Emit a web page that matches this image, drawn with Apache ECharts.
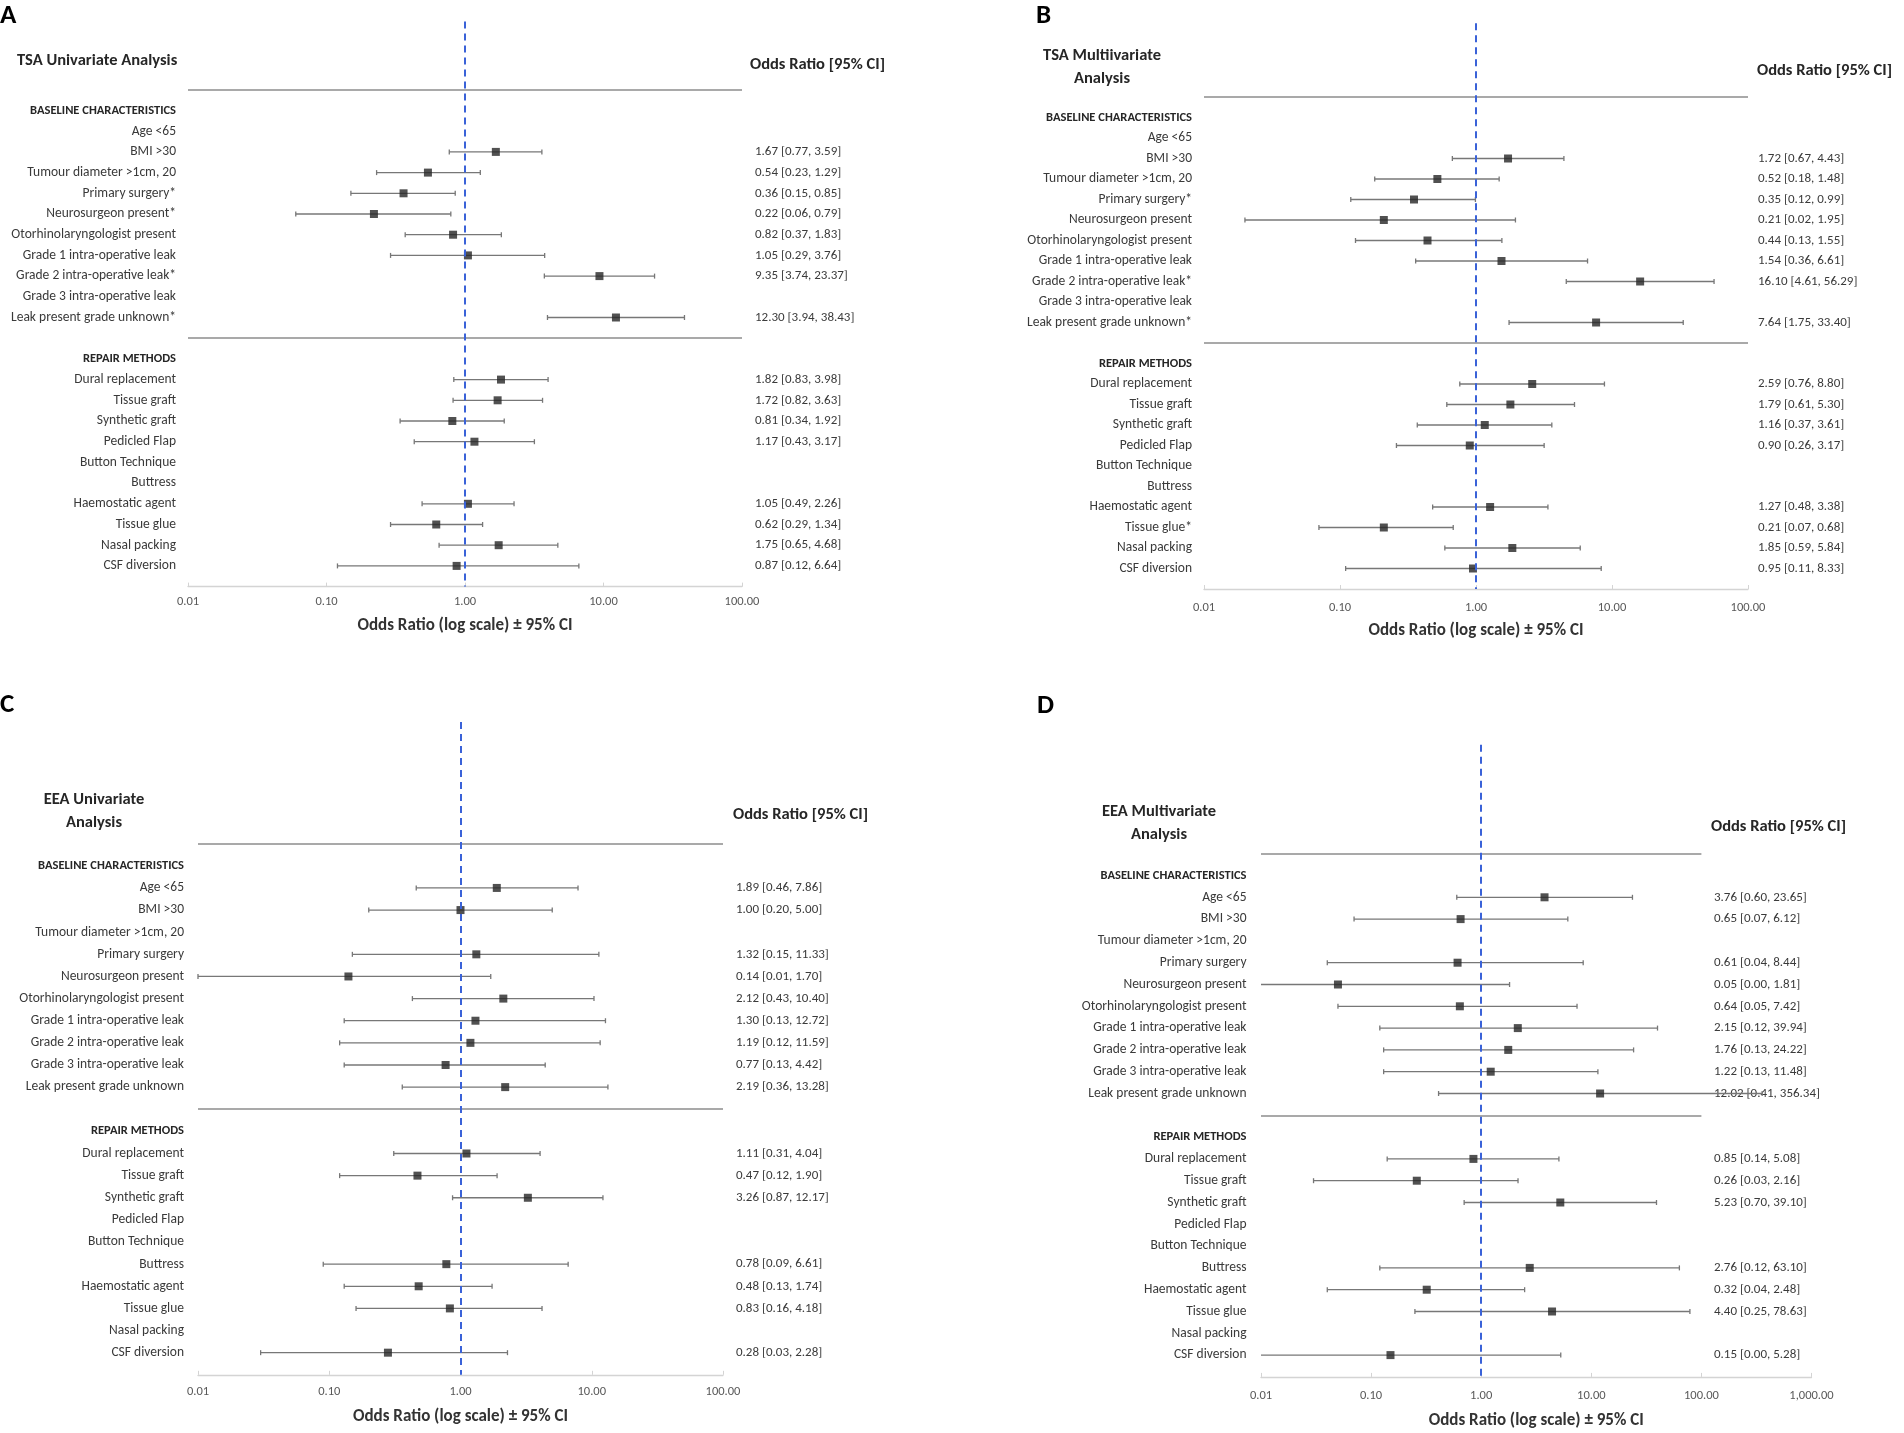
<!DOCTYPE html>
<html>
<head>
<meta charset="utf-8">
<script src="https://cdn.jsdelivr.net/npm/echarts@6/dist/echarts.min.js"></script>
<style>
html,body{margin:0;padding:0;background:#fff}
#main{width:1904px;height:1433px}
</style>
</head>
<body>
<div id="main"></div>
<script>
// row names, same in every panel
var baseRows = ['Age <65','BMI >30','Tumour diameter >1cm, 20','Primary surgery','Neurosurgeon present',
	'Otorhinolaryngologist present','Grade 1 intra-operative leak','Grade 2 intra-operative leak',
	'Grade 3 intra-operative leak','Leak present grade unknown'];
var repairRows = ['Dural replacement','Tissue graft','Synthetic graft','Pedicled Flap','Button Technique',
	'Buttress','Haemostatic agent','Tissue glue','Nasal packing','CSF diversion'];

// rows marked with * (significant)
var starA = ['Primary surgery','Neurosurgeon present','Grade 2 intra-operative leak','Leak present grade unknown'];
var starB = ['Primary surgery','Grade 2 intra-operative leak','Leak present grade unknown','Tissue glue'];
var starC = [];
var starD = [];

// A - TSA univariate
var orA = [null,1.67,0.54,0.36,0.22,0.82,1.05,9.35,null,12.30, 1.82,1.72,0.81,1.17,null,null,1.05,0.62,1.75,0.87];
var loA = [null,0.77,0.23,0.15,0.06,0.37,0.29,3.74,null,3.94, 0.83,0.82,0.34,0.43,null,null,0.49,0.29,0.65,0.12];
var hiA = [null,3.59,1.29,0.85,0.79,1.83,3.76,23.37,null,38.43, 3.98,3.63,1.92,3.17,null,null,2.26,1.34,4.68,6.64];

// B - TSA multivariate
var orB = [null,1.72,0.52,0.35,0.21,0.44,1.54,16.10,null,7.64, 2.59,1.79,1.16,0.90,null,null,1.27,0.21,1.85,0.95];
var loB = [null,0.67,0.18,0.12,0.02,0.13,0.36,4.61,null,1.75, 0.76,0.61,0.37,0.26,null,null,0.48,0.07,0.59,0.11];
var hiB = [null,4.43,1.48,0.99,1.95,1.55,6.61,56.29,null,33.40, 8.80,5.30,3.61,3.17,null,null,3.38,0.68,5.84,8.33];

// C - EEA univariate
var orC = [1.89,1.00,null,1.32,0.14,2.12,1.30,1.19,0.77,2.19, 1.11,0.47,3.26,null,null,0.78,0.48,0.83,null,0.28];
var loC = [0.46,0.20,null,0.15,0.01,0.43,0.13,0.12,0.13,0.36, 0.31,0.12,0.87,null,null,0.09,0.13,0.16,null,0.03];
var hiC = [7.86,5.00,null,11.33,1.70,10.40,12.72,11.59,4.42,13.28, 4.04,1.90,12.17,null,null,6.61,1.74,4.18,null,2.28];

// D - EEA multivariate
var orD = [3.76,0.65,null,0.61,0.05,0.64,2.15,1.76,1.22,12.02, 0.85,0.26,5.23,null,null,2.76,0.32,4.40,null,0.15];
var loD = [0.60,0.07,null,0.04,0.00,0.05,0.12,0.13,0.13,0.41, 0.14,0.03,0.70,null,null,0.12,0.04,0.25,null,0.00];
var hiD = [23.65,6.12,null,8.44,1.81,7.42,39.94,24.22,11.48,356.34, 5.08,2.16,39.10,null,null,63.10,2.48,78.63,null,5.28];

// x axis range (log scale)
var xMin = 0.01;
var xMaxABC = 100;
var xMaxD = 1000;

var FONT = 'Carlito, Lato, "Noto Sans", sans-serif';
var TXT = '#3a3a3a';

var panels = [
	{letter:'A', title:'TSA Univariate Analysis', or:orA, lo:loA, hi:hiA, star:starA, xMax:xMaxABC,
	 grid:{left:188, top:7, width:554, height:579.6}, yMin:-5, dashTop:-4.3,
	 labelMargin:12, valueOffset:13, nameGap:31, tickMargin:9,
	 letterPos:[0,16], titlePos:[17,61,'left'], headerPos:[750,65]},
	{letter:'B', title:'TSA Multiivariate\nAnalysis', or:orB, lo:loB, hi:hiB, star:starB, xMax:xMaxABC,
	 grid:{left:1204, top:15, width:544, height:574}, yMin:-5, dashTop:-4.6,
	 labelMargin:12, valueOffset:10, nameGap:33, tickMargin:12,
	 letterPos:[1036,16], titlePos:[1102,67,'center'], headerPos:[1757,71]},
	{letter:'C', title:'EEA Univariate\nAnalysis', or:orC, lo:loC, hi:hiC, star:starC, xMax:xMaxABC,
	 grid:{left:198, top:710.9, width:525, height:663.9}, yMin:-7, dashTop:-6.5,
	 labelMargin:14, valueOffset:13, nameGap:33, tickMargin:11,
	 letterPos:[0,705], titlePos:[94,811.5,'center'], headerPos:[733,815]},
	{letter:'D', title:'EEA Multivariate\nAnalysis', or:orD, lo:loD, hi:hiD, star:starD, xMax:xMaxD,
	 grid:{left:1261, top:744.7, width:550.5, height:632.2}, yMin:-6, dashTop:-6,
	 labelMargin:14.5, valueOffset:-97.5, nameGap:35, tickMargin:12,
	 letterPos:[1037,706], titlePos:[1159,823,'center'], headerPos:[1711,827]}
];

// data index (0..19) -> row on the y axis (0 = BASELINE header, 11 = separator, 12 = REPAIR header)
function rowOf(i){ return i < 10 ? i + 1 : i + 3; }
function idxOf(r){ if (r >= 1 && r <= 10) return r - 1; if (r >= 13 && r <= 22) return r - 3; return -1; }

function fmt(v){
	return v.toLocaleString('en-US', {minimumFractionDigits:2, maximumFractionDigits:2});
}

var option = {
	animation: false,
	backgroundColor: '#fff',
	grid: [], xAxis: [], yAxis: [], series: [], graphic: []
};

panels.forEach(function(p, k){
	var names = ['BASELINE CHARACTERISTICS'];
	baseRows.forEach(function(n){ names.push(p.star.indexOf(n) >= 0 ? n + '*' : n); });
	names.push('');
	names.push('REPAIR METHODS');
	repairRows.forEach(function(n){ names.push(p.star.indexOf(n) >= 0 ? n + '*' : n); });

	option.grid.push(p.grid);

	option.xAxis.push({
		gridIndex: k, type: 'log', logBase: 10, min: xMin, max: p.xMax,
		splitNumber: Math.round(Math.log10(p.xMax / xMin)),
		axisLine: {onZero: false, lineStyle: {color: '#d4d4d4', width: 1.3}},
		axisTick: {show: true, inside: true, length: 4, lineStyle: {color: '#d4d4d4'}},
		splitLine: {show: false},
		axisLabel: {margin: p.tickMargin, color: '#595959', fontSize: 12.5, fontFamily: FONT,
			formatter: function(v){ return fmt(v); }},
		name: 'Odds Ratio (log scale) \u00b1 95% CI',
		nameLocation: 'middle', nameGap: p.nameGap,
		nameTextStyle: {fontWeight: 'bold', fontSize: 17, color: '#333', fontFamily: FONT}
	});

	// left axis: row names
	option.yAxis.push({
		gridIndex: k, type: 'value', inverse: true, min: p.yMin, max: 23, interval: 1,
		axisLine: {show: false}, axisTick: {show: false}, splitLine: {show: false},
		axisLabel: {
			margin: p.labelMargin, color: TXT, fontSize: 13.5, fontFamily: FONT,
			formatter: function(v){
				var r = Math.round(v);
				if (r < 0 || r > 22) return '';
				if (r === 0 || r === 12) return '{h|' + names[r] + '}';
				return names[r];
			},
			rich: {h: {fontWeight: 'bold', fontSize: 12.5, color: '#262626', fontFamily: FONT}}
		}
	});
	// right axis: odds ratio text
	option.yAxis.push({
		gridIndex: k, type: 'value', position: 'right', offset: p.valueOffset,
		inverse: true, min: p.yMin, max: 23, interval: 1,
		axisLine: {show: false}, axisTick: {show: false}, splitLine: {show: false},
		axisLabel: {
			margin: 0, color: TXT, fontSize: 13, fontFamily: FONT, align: 'left',
			formatter: function(v){
				var i = idxOf(Math.round(v));
				if (i < 0 || p.or[i] == null) return '';
				return p.or[i].toFixed(2) + ' [' + p.lo[i].toFixed(2) + ', ' + p.hi[i].toFixed(2) + ']';
			}
		}
	});

	var barData = [], ptData = [];
	for (var i = 0; i < p.or.length; i++) {
		if (p.or[i] == null) continue;
		barData.push([p.lo[i], p.hi[i], rowOf(i)]);
		ptData.push([p.or[i], rowOf(i)]);
	}

	option.series.push({
		type: 'custom', xAxisIndex: k, yAxisIndex: 2 * k, z: 2,
		encode: {x: 1, y: 2},
		data: barData,
		renderItem: function(params, api){
			var lo = api.value(0), hi = api.value(1), row = api.value(2);
			var a = api.coord([Math.max(lo, xMin), row]);
			var b = api.coord([hi, row]);
			var st = {stroke: '#777', lineWidth: 1.3};
			var kids = [{type: 'line', shape: {x1: a[0], y1: a[1], x2: b[0], y2: b[1]}, style: st}];
			if (lo >= xMin) kids.push({type: 'line', shape: {x1: a[0], y1: a[1] - 2.5, x2: a[0], y2: a[1] + 2.5}, style: st});
			kids.push({type: 'line', shape: {x1: b[0], y1: b[1] - 2.5, x2: b[0], y2: b[1] + 2.5}, style: st});
			return {type: 'group', children: kids};
		}
	});

	option.series.push({
		type: 'scatter', xAxisIndex: k, yAxisIndex: 2 * k, z: 3,
		symbol: 'rect', symbolSize: 8,
		itemStyle: {color: '#262626'},
		data: ptData,
		markLine: {
			silent: true, symbol: ['none', 'none'], label: {show: false},
			data: [
				[{coord: [xMin, -1], lineStyle: {color: '#8c8c8c', width: 1.5, type: 'solid'}}, {coord: [100, -1]}],
				[{coord: [xMin, 11], lineStyle: {color: '#8c8c8c', width: 1.5, type: 'solid'}}, {coord: [100, 11]}],
				[{coord: [1, p.dashTop], lineStyle: {color: '#3a62d8', width: 2, type: [7, 5]}}, {coord: [1, 23]}]
			]
		}
	});

	option.graphic.push({
		type: 'text', x: p.letterPos[0], y: p.letterPos[1],
		style: {text: p.letter, font: 'bold 27px ' + FONT, fill: '#000', textAlign: 'left', textVerticalAlign: 'middle'}
	});
	option.graphic.push({
		type: 'text', x: p.titlePos[0], y: p.titlePos[1],
		style: {text: p.title, font: 'bold 16.5px ' + FONT, lineHeight: 23, fill: '#262626',
			textAlign: p.titlePos[2], textVerticalAlign: 'middle'}
	});
	option.graphic.push({
		type: 'text', x: p.headerPos[0], y: p.headerPos[1],
		style: {text: 'Odds Ratio [95% CI]', font: 'bold 16.5px ' + FONT, fill: '#262626',
			textAlign: 'left', textVerticalAlign: 'middle'}
	});
});

var chart = echarts.init(document.getElementById('main'));
chart.setOption(option);
</script>
</body>
</html>
